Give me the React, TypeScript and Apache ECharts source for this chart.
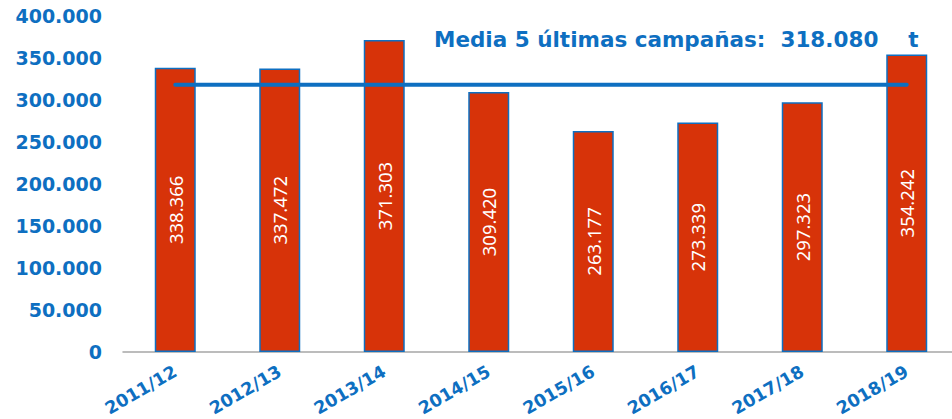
import React, { useEffect, useRef } from "react";
import * as echarts from "echarts";

const categories = ["2011/12", "2012/13", "2013/14", "2014/15", "2015/16", "2016/17", "2017/18", "2018/19"];
const production = [338366, 337472, 371303, 309420, 263177, 273339, 297323, 354242];
const mean5 = 318080;
const titleText = "Media 5 últimas campañas:  318.080    t";

const BLUE = "#0E6FC1";
const RED = "#D73309";

const fmt = (v: number) => {
  const s = Math.round(v).toString();
  return s.replace(/\B(?=(\d{3})+(?!\d))/g, ".");
};

export default function App() {
  const ref = useRef<HTMLDivElement>(null);
  useEffect(() => {
    if (!ref.current) return;
    const chart = echarts.init(ref.current, null, { renderer: "svg" });
    chart.setOption({
      animation: false,
      backgroundColor: "#ffffff",
      title: {
        text: titleText,
        left: 429,
        top: 23,
        textStyle: {
          color: BLUE,
          fontFamily: '"DejaVu Sans", sans-serif',
          fontWeight: "bold",
          fontSize: 21.5,
        },
      },
      grid: {
        left: 123,
        top: 16,
        width: 836,
        height: 336,
        containLabel: false,
        outerBoundsMode: "none",
      },
      xAxis: {
        type: "category",
        data: categories,
        axisLine: { show: true, lineStyle: { color: "#A6A6A6", width: 1.5 } },
        axisTick: { show: false },
        axisLabel: {
          rotate: 30,
          margin: 18,
          color: BLUE,
          fontFamily: '"DejaVu Sans", sans-serif',
          fontWeight: "bold",
          fontSize: 17.5,
        },
      },
      yAxis: {
        type: "value",
        min: 0,
        max: 400000,
        interval: 50000,
        splitLine: { show: false },
        axisLine: { show: false },
        axisTick: { show: false },
        axisLabel: {
          margin: 21,
          color: BLUE,
          fontFamily: '"DejaVu Sans", sans-serif',
          fontWeight: "bold",
          fontSize: 19,
          formatter: (v: number) => fmt(v),
        },
      },
      series: [
        {
          type: "bar",
          data: production,
          barWidth: 41,
          itemStyle: { color: RED, borderColor: BLUE, borderWidth: 1.5 },
          label: {
            show: true,
            position: "inside",
            rotate: 90,
            color: "#ffffff",
            fontFamily: '"Noto Sans", sans-serif',
            fontSize: 18.5,
            formatter: (p: any) => fmt(p.value),
          },
          z: 2,
        },
        {
          type: "line",
          data: categories.map(() => mean5),
          symbol: "none",
          lineStyle: { color: BLUE, width: 4, cap: "round" },
          z: 5,
        },
      ],
    });
    return () => chart.dispose();
  }, []);
  return (
    <div
      ref={ref}
      style={{ position: "absolute", left: 0, top: 0, width: 952, height: 419 }}
    />
  );
}
